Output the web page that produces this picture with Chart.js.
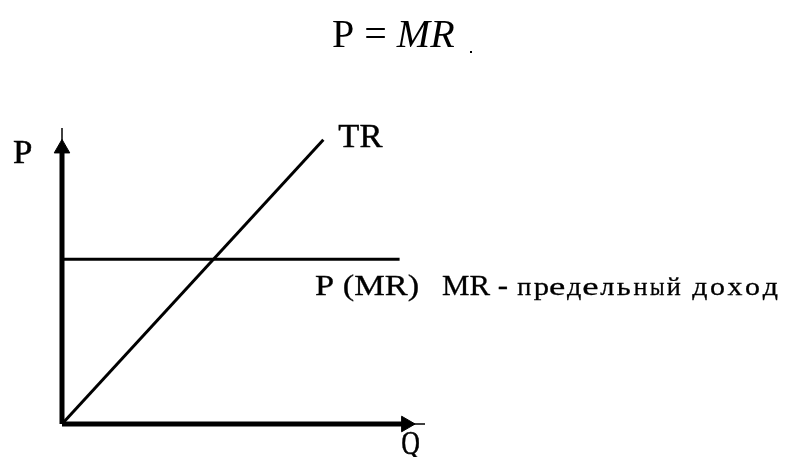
<!DOCTYPE html>
<html>
<head>
<meta charset="utf-8">
<script src="https://cdn.jsdelivr.net/npm/chart.js@4"></script>
<style>
  body { margin: 0; background: #fff; }
  canvas { display: block; }
</style>
</head>
<body>
<canvas id="chart" width="786" height="457"></canvas>
<script>
// quantity (Q) and price (P) in arbitrary units, origin at 0
const qLimits = [0, 10]
const pLimits = [0, 10]

// TR: straight line out of the origin
const trQ = [0, 7.2]
const trP = [0, 9.6]

// P = MR: horizontal line
const mrQ = [0, 9.3]
const mrP = [5.57, 5.57]

// axes and their arrow heads
const xAxisQ = [0, 9.48]
const xAxisP = [0, 0]
const yAxisQ = [0, 0]
const yAxisP = [0, 9.31]
const xStubQ = [9.48, 10]
const yStubP = [9.31, 10]

const labels = {
    title: 'P = ',
    titleItalic: 'MR',
    pAxis: 'P',
    qAxis: 'Q',
    tr: 'TR',
    mrLine: 'P (MR)',
    mrName: 'MR -',
    mrWords: ['предельный', 'доход']
}

const serif = '"Liberation Serif"'

const toPoints = (xs, ys) => xs.map((x, i) => ({ x: x, y: ys[i] }))

const lineSet = (data, width) => ({
    data: data,
    showLine: true,
    borderColor: '#000',
    borderWidth: width,
    pointRadius: 0,
    borderCapStyle: 'butt',
    clip: false
})

// draw text squeezed/stretched so that its ink runs from x to x + width
function drawFit(ctx, text, x, y, size, width) {
    ctx.font = size + 'px ' + serif
    const m = ctx.measureText(text)
    const ink = m.actualBoundingBoxLeft + m.actualBoundingBoxRight
    const sx = width / ink
    ctx.save()
    ctx.translate(x, y)
    ctx.scale(sx, 1)
    ctx.fillText(text, m.actualBoundingBoxLeft, 0)
    ctx.strokeText(text, m.actualBoundingBoxLeft, 0)
    ctx.restore()
}

// typewriter look: each glyph fills a fixed-width cell
function drawMono(ctx, text, x, y, size, cell) {
    ctx.font = size + 'px ' + serif
    Array.from(text).forEach((ch, i) => {
        const m = ctx.measureText(ch)
        const ink = m.actualBoundingBoxLeft + m.actualBoundingBoxRight
        const sx = Math.max(0.7, Math.min(1.8, (cell * 0.85) / ink))
        const cx = x + cell * (i + 0.5)
        ctx.save()
        ctx.translate(cx, y)
        ctx.scale(sx, 1)
        const ox = m.actualBoundingBoxLeft - ink / 2
        ctx.fillText(ch, ox, 0)
        ctx.strokeText(ch, ox, 0)
        ctx.restore()
    })
}

const textPlugin = {
    id: 'schemeText',
    afterDraw(chart) {
        const ctx = chart.ctx
        const xs = chart.scales.x
        const ys = chart.scales.y
        ctx.save()
        ctx.fillStyle = '#000'
        ctx.strokeStyle = '#000'
        ctx.lineWidth = 0.5
        ctx.textAlign = 'left'
        ctx.textBaseline = 'alphabetic'

        // title: P = MR
        ctx.font = '40px ' + serif
        ctx.fillText(labels.title, 332, 47)
        const w = ctx.measureText(labels.title).width
        ctx.font = 'italic 40px ' + serif
        ctx.fillText(labels.titleItalic, 332 + w, 47)
        ctx.fillRect(470, 51, 2, 2)

        drawFit(ctx, labels.pAxis, 13, 163, 33, 19)
        drawFit(ctx, labels.tr, xs.getPixelForValue(trQ[1]) + 15, ys.getPixelForValue(trP[1]) + 7, 33, 44)
        drawFit(ctx, labels.qAxis, xs.getPixelForValue(xStubQ[0]) - 4, 454, 33, 18)

        ctx.lineWidth = 0.3
        drawFit(ctx, labels.mrLine, 315, 295, 30, 103)
        drawFit(ctx, labels.mrName, 442, 295, 30, 65)
        drawMono(ctx, labels.mrWords[0], 516, 295, 26, 16.6)
        drawMono(ctx, labels.mrWords[1], 691, 295, 26, 17.6)
        ctx.restore()
    }
}

new Chart(document.getElementById('chart').getContext('2d'), {
    type: 'scatter',
    data: {
        datasets: [
            lineSet(toPoints(trQ, trP), 3),
            lineSet(toPoints(mrQ, mrP), 3),
            lineSet(toPoints(xAxisQ, xAxisP), 5),
            lineSet(toPoints(yAxisQ, yAxisP), 5),
            lineSet(toPoints(xStubQ, [0, 0]), 1.5),
            lineSet(toPoints([0, 0], yStubP), 1.5),
            {
                data: [{ x: xAxisQ[1], y: 0 }, { x: 0, y: yAxisP[1] }],
                showLine: false,
                pointStyle: 'triangle',
                pointRadius: 9,
                rotation: [90, 0],
                backgroundColor: '#000',
                borderColor: '#000',
                borderWidth: 1,
                clip: false
            }
        ]
    },
    options: {
        responsive: false,
        animation: false,
        devicePixelRatio: 1,
        layout: {
            padding: { left: 62, right: 361, top: 128, bottom: 33 }
        },
        plugins: {
            legend: { display: false },
            tooltip: { enabled: false }
        },
        scales: {
            x: { type: 'linear', min: qLimits[0], max: qLimits[1], display: false },
            y: { type: 'linear', min: pLimits[0], max: pLimits[1], display: false }
        }
    },
    plugins: [textPlugin]
})
</script>
</body>
</html>
